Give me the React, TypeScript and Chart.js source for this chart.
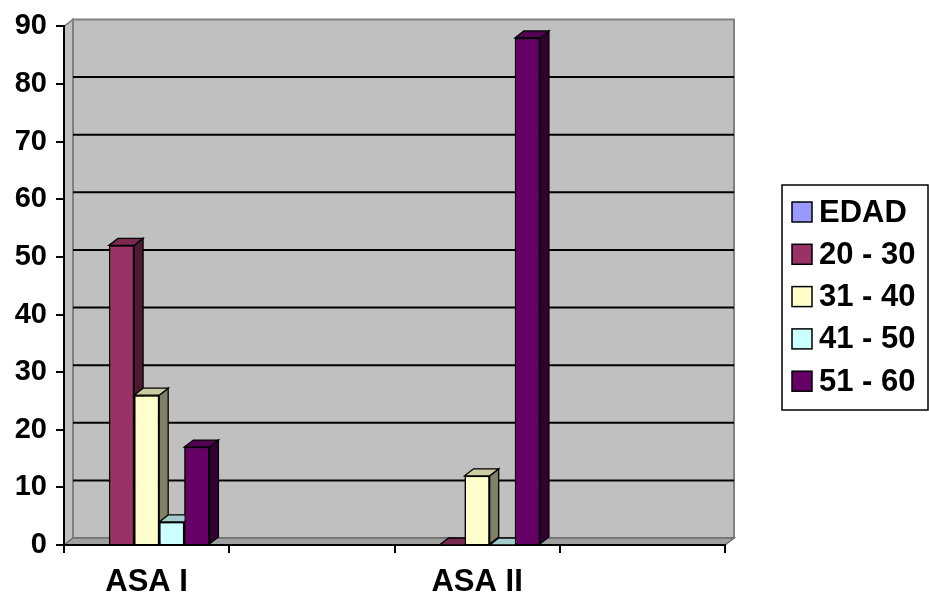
import React, { useEffect, useRef } from "react";
import { Chart, registerables } from "chart.js";

Chart.register(...registerables);

// Category groups along the x axis
const categories: string[] = ["ASA I", "", "ASA II", ""];

// Age-range series (percent of patients)
const seriesLabels: string[] = ["EDAD", "20 - 30", "31 - 40", "41 - 50", "51 - 60"];
const edad: (number | null)[] = [null, null, null, null];
const age20to30: (number | null)[] = [52, null, 0, null];
const age31to40: (number | null)[] = [26, null, 12, null];
const age41to50: (number | null)[] = [4, null, 0, null];
const age51to60: (number | null)[] = [17, null, 88, null];

const seriesColors: string[] = ["#9999ff", "#993366", "#ffffcc", "#ccffff", "#660066"];

// Y axis
const yMin = 0;
const yMax = 90;
const yStep = 10;

const FONT = "'Liberation Sans', Arial, sans-serif";
const DX = 9; // depth offset to the right
const DY = 7; // depth offset upward

function shade(hex: string, f: number): string {
  const n = parseInt(hex.slice(1), 16);
  const r = Math.round(((n >> 16) & 255) * f);
  const g = Math.round(((n >> 8) & 255) * f);
  const b = Math.round((n & 255) * f);
  return `rgb(${r},${g},${b})`;
}

function poly(ctx: CanvasRenderingContext2D, pts: number[][], fill: string, stroke: string, lw: number) {
  ctx.beginPath();
  ctx.moveTo(pts[0][0], pts[0][1]);
  for (let i = 1; i < pts.length; i++) ctx.lineTo(pts[i][0], pts[i][1]);
  ctx.closePath();
  ctx.fillStyle = fill;
  ctx.fill();
  if (lw > 0) {
    ctx.strokeStyle = stroke;
    ctx.lineWidth = lw;
    ctx.stroke();
  }
}

// Walls, floor and gridlines of the 3-D plot box
const wallsPlugin = {
  id: "walls3d",
  beforeDraw(chart: any) {
    const { ctx, chartArea } = chart;
    const { left, right, top, bottom } = chartArea;
    const yScale = chart.scales.y;
    ctx.save();
    // side wall
    poly(ctx, [[left, top], [left + DX, top - DY], [left + DX, bottom - DY], [left, bottom]], "#c0c0c0", "#808080", 1.5);
    // back wall
    poly(ctx, [[left + DX, top - DY], [right + DX, top - DY], [right + DX, bottom - DY], [left + DX, bottom - DY]], "#c0c0c0", "#808080", 2);
    // gridlines on the back wall
    ctx.strokeStyle = "#000";
    ctx.lineWidth = 2;
    for (const t of yScale.ticks) {
      if (t.value <= yMin || t.value >= yMax) continue;
      const y = yScale.getPixelForValue(t.value) - DY;
      ctx.beginPath();
      ctx.moveTo(left + DX, y);
      ctx.lineTo(right + DX, y);
      ctx.stroke();
    }
    // floor
    poly(ctx, [[left, bottom], [left + DX, bottom - DY], [right + DX, bottom - DY], [right, bottom]], "#a0a0a0", "#6e6e6e", 1.5);
    ctx.restore();
  },
  afterDatasetsDraw(chart: any) {
    const { ctx } = chart;
    const datasets = chart.data.datasets;
    ctx.save();
    for (let j = 0; j < categories.length; j++) {
      for (let i = 0; i < datasets.length; i++) {
        const val = datasets[i].data[j];
        if (val === null || val === undefined) continue;
        const el = chart.getDatasetMeta(i).data[j];
        if (!el) continue;
        const { x, y, base, width } = el.getProps(["x", "y", "base", "width"], true);
        const l = x - width / 2;
        const r = x + width / 2;
        const color = seriesColors[i];
        if (val > 0) el.draw(ctx);
        // side face
        if (base - y > 0) {
          poly(ctx, [[r, y], [r + DX, y - DY], [r + DX, base - DY], [r, base]], shade(color, 0.5), "#000", 1.3);
        }
        // top face
        poly(ctx, [[l, y], [l + DX, y - DY], [r + DX, y - DY], [r, y]], shade(color, 0.8), "#000", 1.3);
      }
    }
    ctx.restore();
  },
  afterDraw(chart: any) {
    const { ctx } = chart;
    ctx.save();
    // legend box
    const bx = 782, by = 185, bw = 146, bh = 225;
    ctx.strokeStyle = "#000";
    ctx.lineWidth = 1.5;
    ctx.strokeRect(bx, by, bw, bh);
    ctx.font = `bold 31px ${FONT}`;
    ctx.textBaseline = "middle";
    ctx.textAlign = "left";
    for (let i = 0; i < seriesLabels.length; i++) {
      const cy = 212 + i * 42.3;
      ctx.fillStyle = seriesColors[i];
      ctx.fillRect(792, cy - 10, 20, 20);
      ctx.strokeStyle = "#000";
      ctx.lineWidth = 1.5;
      ctx.strokeRect(792, cy - 10, 20, 20);
      ctx.fillStyle = "#000";
      ctx.fillText(seriesLabels[i], 819, cy + 1);
    }
    ctx.restore();
  },
};

export default function App() {
  const canvasRef = useRef<HTMLCanvasElement | null>(null);

  useEffect(() => {
    if (!canvasRef.current) return;
    const seriesData = [edad, age20to30, age31to40, age41to50, age51to60];
    const chart = new Chart(canvasRef.current, {
      type: "bar",
      data: {
        labels: categories,
        datasets: seriesLabels.map((label, i) => ({
          label,
          data: seriesData[i],
          backgroundColor: seriesColors[i],
          borderColor: "#000",
          borderWidth: 1.5,
          categoryPercentage: 0.76,
          barPercentage: 1,
        })),
      },
      options: {
        responsive: false,
        animation: false,
        devicePixelRatio: 1,
        layout: { padding: { left: 0, right: 204, top: 24, bottom: 0 } },
        plugins: {
          legend: { display: false },
          tooltip: { enabled: false },
        },
        scales: {
          x: {
            offset: true,
            afterFit: (s: any) => { s.height = 51; },
            grid: {
              offset: true,
              drawOnChartArea: false,
              drawTicks: true,
              tickLength: 8,
              color: "#000",
              lineWidth: 2,
            },
            border: { display: true, color: "#000", width: 2 },
            ticks: {
              autoSkip: false,
              maxRotation: 0,
              padding: 11,
              color: "#000",
              font: { family: FONT, size: 31, weight: "bold" },
            },
          },
          y: {
            min: yMin,
            max: yMax,
            afterFit: (s: any) => { s.width = 64; },
            grid: {
              drawOnChartArea: false,
              drawTicks: true,
              tickLength: 8,
              color: "#000",
              lineWidth: 2,
            },
            border: { display: true, color: "#000", width: 2 },
            ticks: {
              stepSize: yStep,
              padding: 9,
              color: "#000",
              font: { family: FONT, size: 29, weight: "bold" },
            },
          },
        },
      },
      plugins: [wallsPlugin],
    });
    return () => chart.destroy();
  }, []);

  return (
    <div style={{ position: "absolute", left: 0, top: 0, width: 929, height: 596, background: "#fff" }}>
      <canvas ref={canvasRef} width={929} height={596} style={{ display: "block" }} />
    </div>
  );
}
